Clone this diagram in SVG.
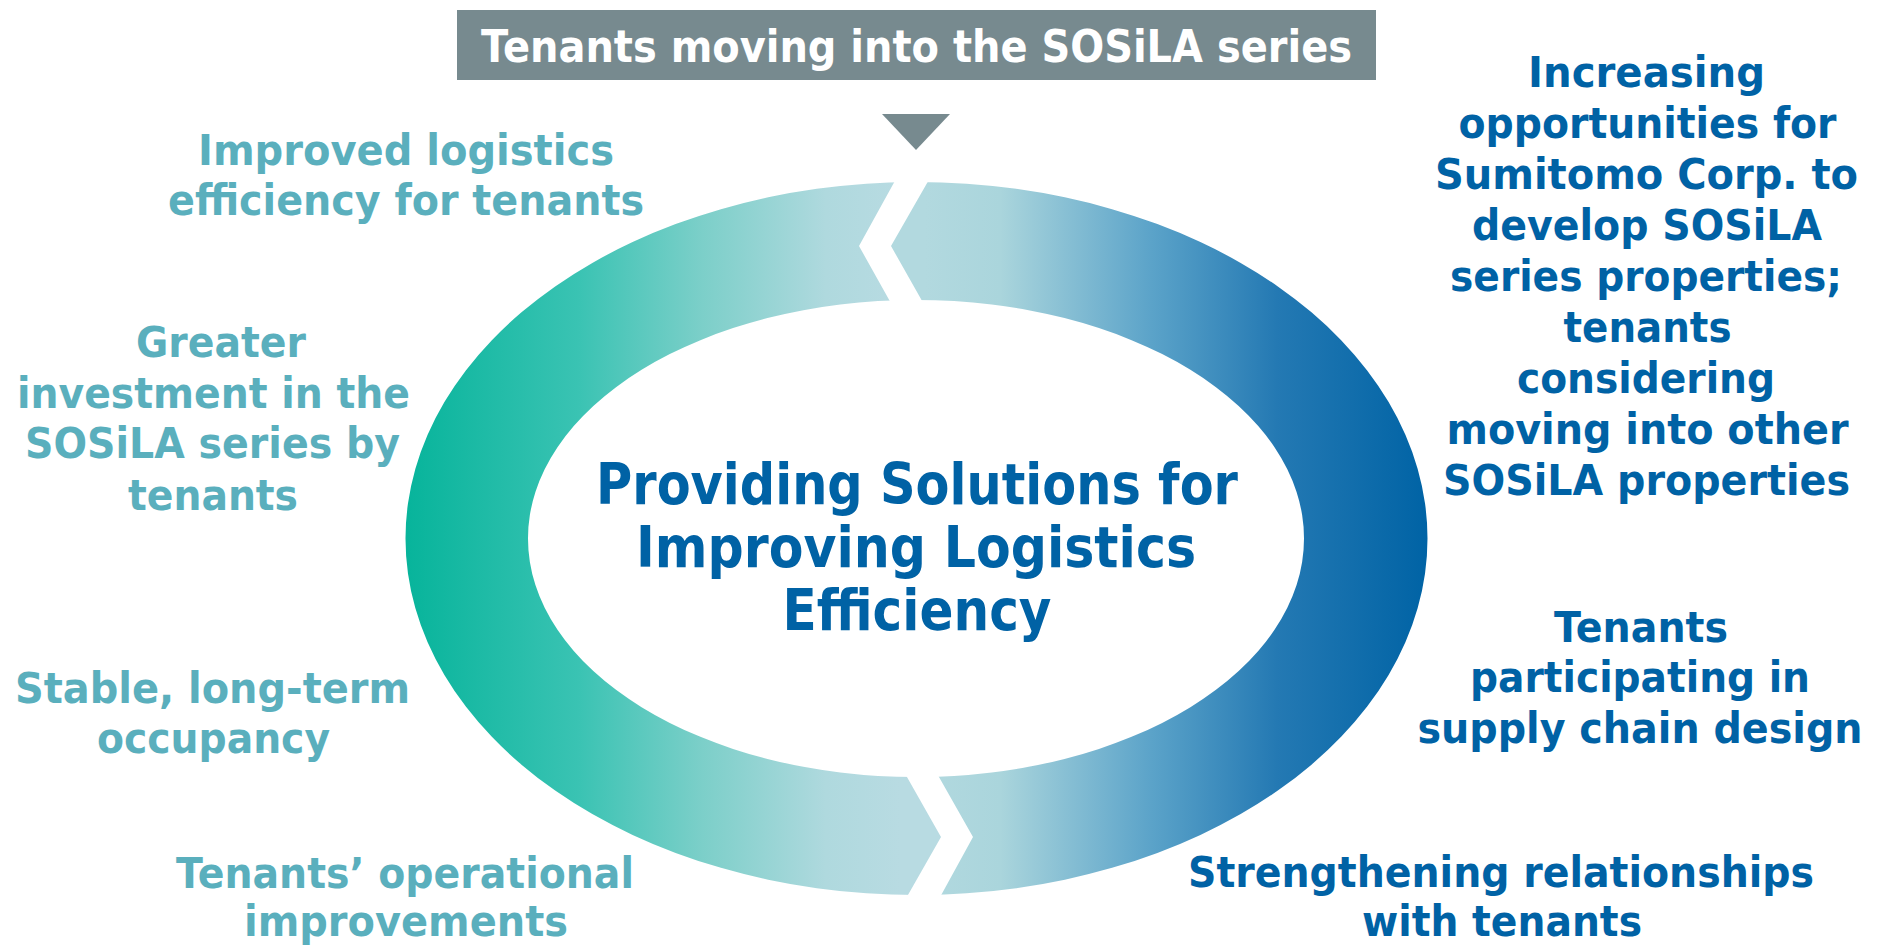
<svg xmlns="http://www.w3.org/2000/svg" width="1881" height="946" viewBox="0 0 1881 946">
  <style>
    .lbl { font-family: "DejaVu Sans", Verdana, sans-serif; font-weight: bold; font-size: 42px; text-anchor: middle; }
    .teal { fill: #5aafbd; }
    .blue { fill: #0062a5; }
    .core { font-family: "DejaVu Sans", Verdana, sans-serif; font-weight: bold; font-size: 57px; text-anchor: middle; fill: #0062a5; }
    .head { font-family: "DejaVu Sans", Verdana, sans-serif; font-weight: bold; font-size: 44px; text-anchor: middle; fill: #ffffff; }
  </style>
  <defs>
    <!-- elliptical band of the cycle -->
    <path id="band" fill-rule="evenodd" d="M405.5,538.5 a511,356.5 0 1,0 1022,0 a511,356.5 0 1,0 -1022,0 Z M528,538.5 a388,238.5 0 1,0 776,0 a388,238.5 0 1,0 -776,0 Z"/>
    <clipPath id="clipLeft">
      <polygon points="0,150 912,150 859,246 906,330 886,740 941,837 888,930 0,930"/>
    </clipPath>
    <clipPath id="clipRight">
      <polygon points="1900,150 946,150 891,246 938.5,330 918,740 973,837 922,930 1900,930"/>
    </clipPath>
    <linearGradient id="gradLeft" gradientUnits="userSpaceOnUse" x1="406" y1="0" x2="900" y2="0">
      <stop offset="0" stop-color="#07b49b"/>
      <stop offset="0.35" stop-color="#3ac3b3"/>
      <stop offset="0.6" stop-color="#7ccfc9"/>
      <stop offset="0.85" stop-color="#afd9de"/>
      <stop offset="1" stop-color="#b8dbe2"/>
    </linearGradient>
    <linearGradient id="gradRight" gradientUnits="userSpaceOnUse" x1="925" y1="0" x2="1428" y2="0">
      <stop offset="0" stop-color="#b2d9df"/>
      <stop offset="0.15" stop-color="#aad5dc"/>
      <stop offset="0.45" stop-color="#5ba3c9"/>
      <stop offset="0.7" stop-color="#2479b3"/>
      <stop offset="1" stop-color="#0063a5"/>
    </linearGradient>
  </defs>

  <rect width="1881" height="946" fill="#ffffff"/>

  <!-- cycle arrows and entry marker -->
  <g id="connectors">
    <use href="#band" clip-path="url(#clipLeft)" fill="url(#gradLeft)"/>
    <use href="#band" clip-path="url(#clipRight)" fill="url(#gradRight)"/>
    <polygon points="882,114 950,114 916,150" fill="#778a8f"/>
  </g>

  <g id="header">
    <rect x="457" y="10" width="919" height="70" fill="#778a8f"/>
    <text class="head" x="916.5" y="62" textLength="871" lengthAdjust="spacingAndGlyphs">Tenants moving into the SOSiLA series</text>
  </g>

  <g id="center">
    <text class="core" x="917" y="504" textLength="642" lengthAdjust="spacingAndGlyphs">Providing Solutions for</text>
    <text class="core" x="916" y="567" textLength="560" lengthAdjust="spacingAndGlyphs">Improving Logistics</text>
    <text class="core" x="917" y="630" textLength="269" lengthAdjust="spacingAndGlyphs">Efficiency</text>
  </g>

  <g id="improved-efficiency">
    <text class="lbl teal" x="406" y="165" textLength="416" lengthAdjust="spacingAndGlyphs">Improved logistics</text>
    <text class="lbl teal" x="406" y="215" textLength="476" lengthAdjust="spacingAndGlyphs">efficiency for tenants</text>
  </g>

  <g id="greater-investment">
    <text class="lbl teal" x="221" y="357" textLength="170" lengthAdjust="spacingAndGlyphs">Greater</text>
    <text class="lbl teal" x="213.5" y="408" textLength="393" lengthAdjust="spacingAndGlyphs">investment in the</text>
    <text class="lbl teal" x="212.5" y="458" textLength="375" lengthAdjust="spacingAndGlyphs">SOSiLA series by</text>
    <text class="lbl teal" x="213" y="510" textLength="170" lengthAdjust="spacingAndGlyphs">tenants</text>
  </g>

  <g id="stable-occupancy">
    <text class="lbl teal" x="212.5" y="703" textLength="395" lengthAdjust="spacingAndGlyphs">Stable, long-term</text>
    <text class="lbl teal" x="213.5" y="753" textLength="233" lengthAdjust="spacingAndGlyphs">occupancy</text>
  </g>

  <g id="operational-improvements">
    <text class="lbl teal" x="405" y="888" textLength="458" lengthAdjust="spacingAndGlyphs">Tenants’ operational</text>
    <text class="lbl teal" x="406" y="936" textLength="324" lengthAdjust="spacingAndGlyphs">improvements</text>
  </g>

  <g id="strengthening-relationships">
    <text class="lbl blue" x="1501" y="887" textLength="626" lengthAdjust="spacingAndGlyphs">Strengthening relationships</text>
    <text class="lbl blue" x="1502" y="936" textLength="280" lengthAdjust="spacingAndGlyphs">with tenants</text>
  </g>

  <g id="supply-chain-design">
    <text class="lbl blue" x="1641" y="642" textLength="174" lengthAdjust="spacingAndGlyphs">Tenants</text>
    <text class="lbl blue" x="1640" y="692" textLength="340" lengthAdjust="spacingAndGlyphs">participating in</text>
    <text class="lbl blue" x="1640" y="743" font-size="40" textLength="445" lengthAdjust="spacingAndGlyphs">supply chain design</text>
  </g>

  <g id="increasing-opportunities">
    <text class="lbl blue" x="1646.5" y="87" textLength="237" lengthAdjust="spacingAndGlyphs">Increasing</text>
    <text class="lbl blue" x="1647.5" y="138" textLength="378" lengthAdjust="spacingAndGlyphs">opportunities for</text>
    <text class="lbl blue" x="1646.5" y="189" textLength="423" lengthAdjust="spacingAndGlyphs">Sumitomo Corp. to</text>
    <text class="lbl blue" x="1647" y="240" textLength="350" lengthAdjust="spacingAndGlyphs">develop SOSiLA</text>
    <text class="lbl blue" x="1646" y="291" textLength="392" lengthAdjust="spacingAndGlyphs">series properties;</text>
    <text class="lbl blue" x="1647.5" y="342" textLength="168" lengthAdjust="spacingAndGlyphs">tenants</text>
    <text class="lbl blue" x="1646" y="393" textLength="258" lengthAdjust="spacingAndGlyphs">considering</text>
    <text class="lbl blue" x="1647.5" y="444" textLength="402" lengthAdjust="spacingAndGlyphs">moving into other</text>
    <text class="lbl blue" x="1646.5" y="495" textLength="407" lengthAdjust="spacingAndGlyphs">SOSiLA properties</text>
  </g>
</svg>
